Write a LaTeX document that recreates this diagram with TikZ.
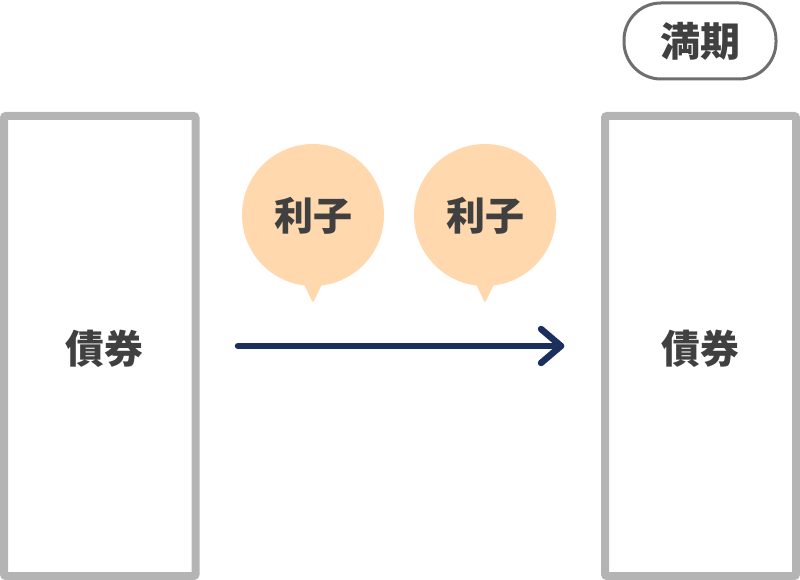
\documentclass[tikz,border=0pt]{standalone}
\usepackage{fontspec}
\newfontfamily\cjk{Noto Sans CJK JP}
\definecolor{boxgray}{HTML}{B4B4B4}
\definecolor{pillgray}{HTML}{6E6E6E}
\definecolor{txt}{HTML}{404040}
\definecolor{peach}{HTML}{FFD8AE}
\definecolor{navy}{HTML}{1B2F5C}
\tikzset{
  bondbox/.style={draw=boxgray, line width=8pt, rounded corners=2pt},
  lbl/.style={font=\cjk\bfseries\fontsize{39}{42}\selectfont, text=txt, inner sep=0pt},
  bubble/.style={fill=peach, draw=none},
}
\begin{document}
\begin{tikzpicture}[x=1pt,y=-1pt]
\useasboundingbox (0,0) rectangle (800,580);
% bonds
\draw[bondbox] (4,116) rectangle (195.5,576);
\draw[bondbox] (605,116) rectangle (796,576);
\node[lbl] (b1) at (104,349) {債券};
\node[lbl] (b2) at (700,349) {債券};
% maturity pill
\node[draw=pillgray, line width=3pt, rounded corners=37pt, minimum width=152pt, minimum height=76pt,
      font=\cjk\bfseries\fontsize{40}{43}\selectfont, text=txt] (m) at (700,41) {満期};
% bubbles
\foreach \cx/\nm in {313/i1, 485/i2}{
  \fill[bubble, rounded corners=2pt] (\cx-11,280) -- (\cx+11,280) -- (\cx,303) -- cycle;
  \fill[bubble] (\cx,215) circle[radius=71];
  \node[lbl] (\nm) at (\cx,216) {利子};
}
% arrow
\coordinate (as) at (238,346);
\coordinate (ae) at (561,346);
\draw[navy, line width=6.5pt, line cap=round] (as) -- (ae);
\draw[navy, line width=6.5pt, line cap=round, line join=round] (541,329) -- (ae) -- (541,363);
\end{tikzpicture}
\end{document}
